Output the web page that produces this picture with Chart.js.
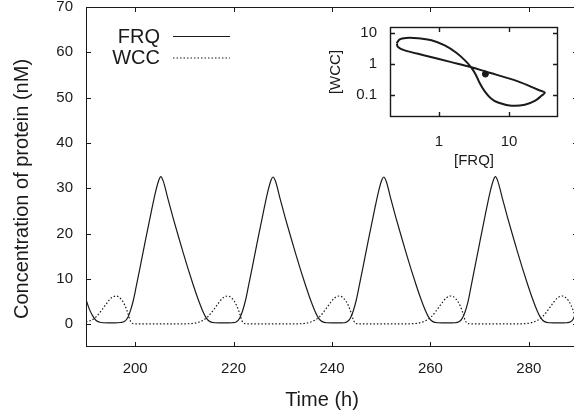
<!DOCTYPE html>
<html>
<head>
<meta charset="utf-8">
<script src="https://cdn.jsdelivr.net/npm/chart.js@4.4.1/dist/chart.umd.min.js"></script>
<style>
  html, body { margin: 0; padding: 0; background: #fff; overflow: hidden; }
  #wrap  { position: relative; width: 574px; height: 415px; overflow: hidden; }
  #main  { position: absolute; left: 0; top: 0; }
  #inset { position: absolute; left: 320px; top: 20px; }
</style>
</head>
<body>
<div id="wrap">
  <canvas id="main" width="578" height="415"></canvas>
  <canvas id="inset" width="250" height="155"></canvas>
</div>
<script>
/* ── Data ─────────────────────────────────────────── */
const frqTime = [
  190.0, 190.7, 191.4, 192.0, 193.0, 194.5, 196.0, 197.0, 197.8, 198.5, 199.0, 199.6, 200.2,
  201.2, 202.2, 203.2, 204.2, 204.8, 205.2, 205.7, 206.7, 207.7, 208.7, 209.7, 210.7, 211.7,
  212.7, 213.7, 214.5, 215.2, 216.2, 218.2, 219.7,
  220.5, 221.2, 221.8, 222.4, 223.0, 224.0, 225.0, 226.0, 227.0, 227.6, 228.0, 228.5, 229.5,
  230.5, 231.5, 232.5, 233.5, 234.5, 235.5, 236.5, 237.3, 238.0, 239.0, 241.0, 242.5,
  243.0, 243.7, 244.3, 244.9, 245.5, 246.5, 247.5, 248.5, 249.5, 250.1, 250.5, 251.0, 252.0,
  253.0, 254.0, 255.0, 256.0, 257.0, 258.0, 259.0, 259.8, 260.5, 261.5, 263.5, 265.0,
  265.7, 266.4, 267.0, 267.6, 268.2, 269.2, 270.2, 271.2, 272.2, 272.8, 273.2, 273.7, 274.7,
  275.7, 276.7, 277.7, 278.7, 279.7, 280.7, 281.7, 282.5, 283.2, 284.2, 286.2, 287.7,
  288.4, 289.1, 289.6, 290.2
];
const frqValue = [
  5.5, 3.3, 1.8, 0.9, 0.4, 0.3, 0.3, 0.4, 0.6, 1.5, 2.9, 5.2, 8.3,
  13.7, 19.2, 24.5, 29.5, 31.8, 32.6, 31.6, 27.5, 23.5, 19.7, 16.0, 12.4, 9.0,
  5.8, 3.0, 1.3, 0.6, 0.35, 0.3, 0.35,
  0.5, 1.3, 2.9, 5.2, 8.3, 13.7, 19.2, 24.5, 29.5, 31.8, 32.5, 31.6, 27.5,
  23.5, 19.7, 16.0, 12.4, 9.0, 5.8, 3.0, 1.3, 0.6, 0.35, 0.3, 0.35,
  0.5, 1.3, 2.9, 5.2, 8.3, 13.7, 19.2, 24.5, 29.5, 31.8, 32.5, 31.6, 27.5,
  23.5, 19.7, 16.0, 12.4, 9.0, 5.8, 3.0, 1.3, 0.6, 0.35, 0.3, 0.35,
  0.5, 1.2, 2.6, 4.8, 8.0, 13.5, 19.0, 24.4, 29.5, 31.8, 32.6, 31.6, 27.5,
  23.5, 19.7, 16.0, 12.4, 9.0, 5.8, 3.0, 1.3, 0.6, 0.35, 0.3, 0.35,
  0.5, 1.3, 2.9, 5.2
];
const wccTime = [
  190.0, 191.1, 192.1, 193.1, 194.1, 195.1, 196.1, 197.0, 197.9, 198.5, 199.0, 199.6, 201.1, 205.0, 209.0,
  211.8, 212.8, 213.8, 214.8, 215.8, 216.8, 217.8, 218.8, 219.7, 220.6, 221.2, 221.7, 222.3, 223.8, 227.5, 231.5,
  234.5, 235.5, 236.5, 237.5, 238.5, 239.5, 240.5, 241.5, 242.4, 243.3, 243.9, 244.4, 245.0, 246.5, 250.0, 254.0,
  257.2, 258.2, 259.2, 260.2, 261.2, 262.2, 263.2, 264.2, 265.1, 266.0, 266.6, 267.1, 267.7, 269.2, 273.0, 277.0,
  279.8, 280.8, 281.8, 282.8, 283.8, 284.8, 285.8, 286.8, 287.7, 288.6, 289.2, 289.7, 290.3
];
const wccValue = [
  0.55, 0.9, 1.7, 3.0, 4.5, 5.8, 6.25, 5.7, 4.2, 2.5, 0.8, 0.15, 0.1, 0.08, 0.1,
  0.2, 0.45, 0.9, 1.7, 3.0, 4.5, 5.8, 6.25, 5.7, 4.2, 2.5, 0.8, 0.15, 0.1, 0.08, 0.1,
  0.2, 0.45, 0.9, 1.7, 3.0, 4.5, 5.8, 6.25, 5.7, 4.2, 2.5, 0.8, 0.15, 0.1, 0.08, 0.1,
  0.2, 0.45, 0.9, 1.7, 3.0, 4.5, 5.8, 6.25, 5.7, 4.2, 2.5, 0.8, 0.15, 0.1, 0.08, 0.1,
  0.2, 0.45, 0.9, 1.7, 3.0, 4.5, 5.8, 6.25, 5.7, 4.2, 2.5, 0.8, 0.15
];
const seriesLabels = ['FRQ', 'WCC'];
const xTicks = [200, 220, 240, 260, 280];
const yTicks = [0, 10, 20, 30, 40, 50, 60, 70];
const xTitle = 'Time (h)';
const yTitle = 'Concentration of protein (nM)';

// inset: one cycle in the FRQ / WCC plane (log-log), plus the fixed point
const insetFrq = [0.25, 0.275, 0.34, 0.5, 0.78, 1.21, 1.77, 2.33, 2.84, 3.31, 3.81, 4.5, 5.48, 6.96,
  10.8, 16.8, 23.3, 29.0, 32.4, 25.9, 13.4, 4.5, 2.9, 1.5, 0.625, 0.324, 0.26, 0.25];
const insetWcc = [4.5, 6.08, 6.7, 6.55, 5.65, 3.89, 2.26, 1.31, 0.80, 0.475, 0.244, 0.131, 0.080, 0.058,
  0.046, 0.049, 0.065, 0.095, 0.121, 0.148, 0.275, 0.577, 0.777, 1.13, 1.85, 2.69, 3.43, 4.5];
const fixedPoint = { frq: 4.6, wcc: 0.47 };
const insetXTicks = [1, 10];
const insetYTicks = [0.1, 1, 10];

/* ── Shared look ──────────────────────────────────── */
const INK  = '#1a1a1a';
const FONT = "'Liberation Sans', Arial, Helvetica, sans-serif";
Chart.defaults.font.family = FONT;
Chart.defaults.color = INK;

const toPoints = (xs, ys) => xs.map((x, i) => ({ x: x, y: ys[i] }));
const fixTicks = list => scale => { scale.ticks = list.map(v => ({ value: v })); };
// fixed axis box, no extra padding taken from the tick labels
const fitX = h => s => { s.height = h; s.paddingLeft = 0; s.paddingRight = 0; };
const fitY = w => s => { s.width = w; s.paddingTop = 0; s.paddingBottom = 0; };

// gnuplot style box with inward, mirrored ticks
const framePlugin = {
  id: 'frame',
  afterDraw(chart, args, opts) {
    const { ctx, chartArea: a, scales } = chart;
    const len = opts.tickLength || 5;
    ctx.save();
    ctx.strokeStyle = INK;
    ctx.lineWidth = opts.lineWidth || 1;
    ctx.strokeRect(a.left + 0.5, a.top + 0.5, a.right - a.left - 1, a.bottom - a.top - 1);
    ctx.beginPath();
    scales.x.ticks.forEach(t => {
      const px = Math.round(scales.x.getPixelForValue(t.value)) + 0.5;
      ctx.moveTo(px, a.bottom); ctx.lineTo(px, a.bottom - len);
      ctx.moveTo(px, a.top);    ctx.lineTo(px, a.top + len);
    });
    scales.y.ticks.forEach(t => {
      const py = Math.round(scales.y.getPixelForValue(t.value)) + 0.5;
      ctx.moveTo(a.left, py);  ctx.lineTo(a.left + len, py);
      ctx.moveTo(a.right, py); ctx.lineTo(a.right - len, py);
    });
    ctx.stroke();
    ctx.restore();
  }
};

// key in the upper left (text right-aligned, sample line to its right) and the axis titles
const keyPlugin = {
  id: 'key',
  afterDatasetsDraw(chart, args, opts) {
    const ctx = chart.ctx;
    ctx.save();
    ctx.font = '20px ' + FONT;
    ctx.textAlign = 'right';
    ctx.textBaseline = 'middle';
    chart.data.datasets.forEach((ds, i) => {
      const y = opts.y + i * opts.step;
      ctx.fillStyle = INK;
      ctx.fillText(ds.label, opts.textRight, y + 1);
      ctx.strokeStyle = ds.borderColor;
      ctx.lineWidth = ds.borderWidth;
      ctx.setLineDash(ds.borderDash || []);
      ctx.beginPath();
      ctx.moveTo(opts.lineFrom, y + 0.5);
      ctx.lineTo(opts.lineTo, y + 0.5);
      ctx.stroke();
    });
    ctx.setLineDash([]);
    ctx.textAlign = 'center';
    ctx.fillText(xTitle, opts.xTitleAt[0], opts.xTitleAt[1]);
    ctx.translate(opts.yTitleAt[0], opts.yTitleAt[1]);
    ctx.rotate(-Math.PI / 2);
    ctx.fillText(yTitle, 0, 0);
    ctx.restore();
  }
};

/* ── 1. Time course ──────────────────────────────── */
new Chart(document.getElementById('main'), {
  type: 'line',
  data: {
    datasets: [
      {
        label: seriesLabels[0],
        data: toPoints(frqTime, frqValue),
        borderColor: INK,
        borderWidth: 1.2,
        pointRadius: 0,
        cubicInterpolationMode: 'monotone'
      },
      {
        label: seriesLabels[1],
        data: toPoints(wccTime, wccValue),
        borderColor: INK,
        borderWidth: 1.2,
        borderDash: [1.5, 2],
        pointRadius: 0,
        cubicInterpolationMode: 'monotone'
      }
    ]
  },
  options: {
    responsive: false,
    animation: false,
    devicePixelRatio: 1,
    layout: { padding: { top: 7, left: 0, right: 0, bottom: 0 } },
    plugins: {
      legend: { display: false },
      tooltip: { enabled: false },
      frame: { tickLength: 5 },
      key: {
        y: 36, step: 21.5, textRight: 160, lineFrom: 173, lineTo: 230,
        xTitleAt: [322, 400], yTitleAt: [22, 189]
      }
    },
    scales: {
      x: {
        type: 'linear',
        min: 190,
        max: 290,
        afterBuildTicks: fixTicks(xTicks),
        afterFit: fitX(68),
        grid: { display: false, drawTicks: false },
        border: { display: false },
        ticks: { font: { size: 15, lineHeight: 1 }, padding: 14, maxRotation: 0 }
      },
      y: {
        min: -5,
        max: 70,
        afterBuildTicks: fixTicks(yTicks),
        afterFit: fitY(86),
        grid: { display: false, drawTicks: false },
        border: { display: false },
        ticks: { font: { size: 15, lineHeight: 1 }, padding: 13 }
      }
    }
  },
  plugins: [framePlugin, keyPlugin]
});

/* ── 2. Inset: phase plane ───────────────────────── */
new Chart(document.getElementById('inset'), {
  type: 'scatter',
  data: {
    datasets: [
      {
        data: toPoints(insetFrq, insetWcc),
        showLine: true,
        borderColor: INK,
        borderWidth: 2,
        pointRadius: 0,
        tension: 0.35
      },
      {
        data: [{ x: fixedPoint.frq, y: fixedPoint.wcc }],
        pointRadius: 3,
        pointBackgroundColor: INK,
        pointBorderColor: INK
      }
    ]
  },
  options: {
    responsive: false,
    animation: false,
    devicePixelRatio: 1,
    layout: { padding: { top: 7, left: 0, right: 12, bottom: 0 } },
    plugins: {
      legend: { display: false },
      tooltip: { enabled: false },
      frame: { tickLength: 5, lineWidth: 1.4 }
    },
    scales: {
      x: {
        type: 'logarithmic',
        min: 0.2,
        max: 50,
        afterBuildTicks: fixTicks(insetXTicks),
        afterFit: fitX(58),
        grid: { display: false, drawTicks: false },
        border: { display: false },
        ticks: { font: { size: 15, lineHeight: 1 }, padding: 17, callback: v => String(v) },
        title: { display: true, text: '[FRQ]', font: { size: 15 }, padding: { top: 0, bottom: 5 } }
      },
      y: {
        type: 'logarithmic',
        min: 0.02,
        max: 15,
        afterBuildTicks: fixTicks(insetYTicks),
        afterFit: fitY(70),
        grid: { display: false, drawTicks: false },
        border: { display: false },
        ticks: { font: { size: 15, lineHeight: 1 }, padding: 13, callback: v => String(v) },
        title: { display: true, text: '[WCC]', font: { size: 15 }, padding: { top: 7, bottom: 0 } }
      }
    }
  },
  plugins: [framePlugin]
});
</script>
</body>
</html>
